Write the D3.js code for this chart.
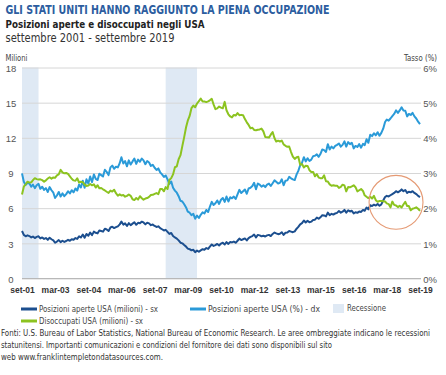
<!DOCTYPE html>
<html>
<head>
<meta charset="utf-8">
<script src="https://cdn.jsdelivr.net/npm/d3@7"></script>
<style>
  body { margin: 0; background: #fff; }
  svg { display: block; font-family: "Liberation Sans Narrow", "Arial Narrow", "DejaVu Sans Condensed", sans-serif; }
</style>
</head>
<body>
<div id="chart"></div>
<script>
// monthly values, settembre 2001 - settembre 2019
const startMonth = '2001-09';

// Posizioni aperte USA (milioni)
const openings = [
  4.05, 3.72, 3.60, 3.68,
  3.62, 3.50, 3.58, 3.45, 3.55, 3.60, 3.42, 3.50, 3.38, 3.45, 3.30, 3.48,
  3.35, 3.25, 3.05, 3.15, 3.28, 3.10, 3.22, 3.12, 3.20, 3.30, 3.22, 3.35,
  3.30, 3.45, 3.38, 3.60, 3.50, 3.75, 3.48, 3.80, 3.65, 3.92, 3.70, 4.00,
  3.90, 3.85, 4.10, 4.05, 4.00, 4.25, 4.18, 4.05, 4.35, 4.42, 4.30, 4.38,
  4.45, 4.62, 4.85, 4.60, 4.70, 4.48, 4.72, 4.55, 4.68, 4.80, 4.58, 4.75,
  4.72, 4.85, 4.78, 4.62, 4.75, 4.70, 4.55, 4.60, 4.48, 4.40, 4.45, 4.30,
  4.20, 4.10, 4.15, 3.98, 3.80, 3.88, 3.62, 3.50, 3.40, 3.25, 3.05, 3.00,
  2.85, 2.72, 2.55, 2.50, 2.40, 2.45, 2.25, 2.38, 2.28, 2.40, 2.50, 2.45,
  2.60, 2.52, 2.72, 2.90, 2.78, 2.85, 2.95, 2.82, 2.98, 3.05, 2.90, 3.10,
  2.95, 3.12, 3.08, 3.15, 3.05, 3.22, 3.40, 3.28, 3.35, 3.42, 3.25, 3.45,
  3.55, 3.62, 3.75, 3.50, 3.72, 3.68, 3.60, 3.65, 3.58, 3.68, 3.72, 3.62,
  3.80, 3.92, 3.85, 3.78, 3.82, 3.95, 3.72, 3.90, 3.92, 4.05, 4.00, 3.95,
  4.02, 4.25, 4.40, 4.62, 4.72, 4.95, 4.78, 4.92, 4.80, 4.85, 5.00, 5.02,
  5.20, 5.10, 5.22, 5.40, 5.38, 5.30, 5.62, 5.40, 5.52, 5.45, 5.55, 5.60,
  5.75, 5.62, 5.70, 5.85, 5.62, 5.82, 5.72, 5.78, 5.55, 5.65, 5.60, 5.72,
  5.68, 5.85, 5.78, 6.05, 5.90, 6.25, 6.18, 6.30, 6.22, 6.35, 6.20, 6.32,
  6.65, 6.95, 7.05, 7.00, 7.10, 7.20, 7.30, 7.45, 7.35, 7.45, 7.60, 7.45,
  7.55, 7.30, 7.40, 7.35, 7.45, 7.30, 7.20, 7.05, 6.95
];

// Posizioni aperte USA (%)
const openingsRate = [
  2.99, 2.75, 2.66, 2.72,
  2.70, 2.61, 2.67, 2.57, 2.65, 2.69, 2.55, 2.61, 2.52, 2.57, 2.46, 2.60,
  2.51, 2.44, 2.29, 2.36, 2.46, 2.33, 2.42, 2.34, 2.40, 2.48, 2.42, 2.51,
  2.45, 2.56, 2.50, 2.67, 2.59, 2.78, 2.58, 2.82, 2.70, 2.90, 2.74, 2.96,
  2.83, 2.80, 2.98, 2.94, 2.90, 3.09, 3.03, 2.94, 3.16, 3.21, 3.12, 3.18,
  3.16, 3.28, 3.45, 3.27, 3.34, 3.19, 3.36, 3.24, 3.33, 3.41, 3.26, 3.38,
  3.32, 3.41, 3.36, 3.25, 3.34, 3.30, 3.20, 3.23, 3.15, 3.09, 3.13, 3.02,
  2.96, 2.89, 2.93, 2.82, 2.69, 2.76, 2.58, 2.50, 2.44, 2.34, 2.21, 2.19,
  2.11, 2.02, 1.90, 1.87, 1.80, 1.84, 1.70, 1.79, 1.72, 1.81, 1.88, 1.85,
  1.95, 1.89, 2.04, 2.18, 2.09, 2.14, 2.22, 2.12, 2.24, 2.29, 2.18, 2.33,
  2.19, 2.31, 2.28, 2.33, 2.26, 2.39, 2.52, 2.43, 2.48, 2.53, 2.41, 2.56,
  2.58, 2.63, 2.72, 2.54, 2.70, 2.67, 2.61, 2.65, 2.60, 2.67, 2.70, 2.63,
  2.71, 2.79, 2.75, 2.70, 2.72, 2.82, 2.65, 2.78, 2.79, 2.89, 2.85, 2.82,
  2.80, 2.96, 3.06, 3.22, 3.29, 3.45, 3.33, 3.42, 3.34, 3.38, 3.48, 3.49,
  3.53, 3.46, 3.54, 3.67, 3.65, 3.60, 3.82, 3.67, 3.75, 3.70, 3.77, 3.80,
  3.84, 3.75, 3.80, 3.90, 3.75, 3.88, 3.82, 3.86, 3.70, 3.77, 3.74, 3.82,
  3.72, 3.83, 3.79, 3.96, 3.86, 4.09, 4.05, 4.13, 4.07, 4.16, 4.06, 4.14,
  4.26, 4.45, 4.52, 4.49, 4.55, 4.62, 4.68, 4.78, 4.71, 4.78, 4.87, 4.78,
  4.77, 4.61, 4.68, 4.65, 4.71, 4.61, 4.55, 4.46, 4.39
];

// Disoccupati USA (milioni)
const unemployed = [
  7.17, 7.83, 8.04, 8.26,
  8.18, 8.21, 8.39, 8.56, 8.48, 8.44, 8.46, 8.39, 8.26, 8.37, 8.53, 8.64,
  8.52, 8.62, 8.59, 8.80, 8.89, 9.27, 9.05, 8.97, 9.00, 8.92, 8.72, 8.51,
  8.37, 8.34, 8.55, 8.19, 8.25, 8.22, 8.00, 7.90, 7.93, 8.06, 7.95, 8.03,
  7.76, 7.96, 7.70, 7.72, 7.61, 7.51, 7.40, 7.30, 7.50, 7.42, 7.57, 7.28,
  7.06, 7.18, 7.08, 7.12, 6.98, 7.05, 7.17, 7.05, 6.76, 6.69, 6.87, 6.73,
  7.02, 6.85, 6.73, 6.82, 6.86, 6.96, 7.12, 7.14, 7.22, 7.29, 7.20, 7.63,
  7.64, 7.44, 7.80, 7.63, 8.40, 8.56, 8.88, 9.49, 9.57, 10.17, 10.52, 11.29,
  12.06, 12.90, 13.46, 13.87, 14.53, 14.75, 14.61, 14.93, 15.14, 15.35, 15.10, 15.10,
  15.05, 15.11, 15.20, 15.33, 14.85, 14.45, 14.51, 14.67, 14.58, 14.52, 15.07, 14.35,
  14.01, 13.82, 13.74, 13.95, 13.90, 14.11, 13.93, 13.96, 13.93, 13.60, 13.32, 13.10,
  12.81, 12.86, 12.67, 12.65, 12.69, 12.72, 12.79, 12.55, 12.07, 12.04, 12.02, 12.27,
  12.50, 11.97, 11.69, 11.76, 11.69, 11.76, 11.44, 11.32, 11.24, 11.26, 10.79, 10.40,
  10.20, 10.35, 10.38, 9.70, 9.76, 9.47, 9.61, 9.60, 9.24, 9.09, 9.09, 8.72,
  8.90, 8.61, 8.56, 8.55, 8.80, 8.30, 8.27, 8.03, 7.91, 7.95, 7.91, 7.92,
  7.73, 7.82, 8.00, 7.94, 7.43, 7.80, 7.78, 7.86, 7.95, 7.79, 7.43, 7.53,
  7.63, 7.47, 7.10, 6.97, 6.86, 6.97, 6.82, 7.05, 6.68, 6.54, 6.62, 6.61,
  6.59, 6.57, 6.41, 6.35, 6.07, 6.56, 6.28, 6.23, 6.09, 6.21, 6.06, 6.31,
  6.54, 6.18, 6.18, 5.82, 5.95, 6.00, 6.07, 5.95, 5.76
];

const recessions = [['2001-09', '2002-06'], ['2008-03', '2009-08']];

const tickMonths = ['2001-09', '2003-03', '2004-09', '2006-03', '2007-09', '2009-03', '2010-09',
  '2012-03', '2013-09', '2015-03', '2016-09', '2018-03', '2019-09'];
const tickLabels = ['set-01', 'mar-03', 'set-04', 'mar-06', 'set-07', 'mar-09', 'set-10',
  'mar-12', 'set-13', 'mar-15', 'set-16', 'mar-18', 'set-19'];
const leftTicks = [0, 3, 6, 9, 12, 15, 18];
const rightTicks = [0, 1, 2, 3, 4, 5, 6];

const colors = { openings: '#1c4f8f', rate: '#2a9ad8', unemployed: '#8cc320', recession: '#dfe9f4' };

const W = 446, H = 375;
const plot = { left: 22, right: 420, top: 67.5, bottom: 278.5 };

const parse = d3.timeParse('%Y-%m');
const months = d3.timeMonth.range(parse(startMonth), d3.timeMonth.offset(parse(startMonth), openings.length));

const svg = d3.select('#chart').append('svg').attr('width', W).attr('height', H);

// small helper for texts squeezed to the reference width
const fitText = (sel, len) => sel.attr('textLength', len).attr('lengthAdjust', 'spacingAndGlyphs');

// Header
svg.append('text').attr('x', 5.5).attr('y', 13.5)
  .attr('fill', '#2c5d9f').style('font-weight', 'bold').style('font-size', '11.5px')
  .text('GLI STATI UNITI HANNO RAGGIUNTO LA PIENA OCCUPAZIONE').call(fitText, 324);
svg.append('text').attr('x', 5.5).attr('y', 28.3)
  .attr('fill', '#222').style('font-weight', 'bold').style('font-size', '10.5px')
  .text('Posizioni aperte e disoccupati negli USA').call(fitText, 199);
svg.append('text').attr('x', 5.5).attr('y', 42)
  .attr('fill', '#333').style('font-size', '12.5px')
  .text('settembre 2001 - settembre 2019').call(fitText, 169);
svg.append('text').attr('x', 5.5).attr('y', 60.5)
  .attr('fill', '#444').style('font-size', '8px').text('Milioni').call(fitText, 22);
svg.append('text').attr('x', 404).attr('y', 60.5)
  .attr('fill', '#444').style('font-size', '8px').text('Tasso (%)').call(fitText, 33);

// Scales
const x = d3.scaleTime().domain([months[0], months[months.length - 1]]).range([plot.left, plot.right]);
const y = d3.scaleLinear().domain([0, 18]).range([plot.bottom, plot.top]);
const yR = d3.scaleLinear().domain([0, 6]).range([plot.bottom, plot.top]);

// Recession bands
svg.append('g').selectAll('rect').data(recessions).enter().append('rect')
  .attr('x', d => x(parse(d[0])))
  .attr('width', d => x(parse(d[1])) - x(parse(d[0])))
  .attr('y', y(18))
  .attr('height', y(0) - y(18))
  .attr('fill', colors.recession);

// Left axis with gridlines
const yAxisGroup = svg.append('g').attr('transform', `translate(${plot.left},0)`)
  .call(d3.axisLeft(y).tickValues(leftTicks).tickSize(-(plot.right + 1 - plot.left)));
yAxisGroup.select('.domain').remove();
yAxisGroup.selectAll('line').attr('stroke', '#d6d6d6');
yAxisGroup.selectAll('text').attr('x', -11).attr('dy', '0.4em').attr('text-anchor', 'middle')
  .attr('fill', '#555').style('font-size', '9.5px').style('font-family', null);

// Right axis
const yRGroup = svg.append('g').attr('transform', 'translate(437,0)')
  .call(d3.axisRight(yR).tickValues(rightTicks).tickSize(0).tickFormat(d => d + '%'));
yRGroup.select('.domain').remove();
yRGroup.selectAll('text').attr('x', 0).attr('dy', '0.4em').attr('text-anchor', 'end')
  .attr('fill', '#555').style('font-size', '9.5px').style('font-family', null);

// Bottom axis
const xAxisGroup = svg.append('g').attr('transform', `translate(0,${plot.bottom})`)
  .call(d3.axisBottom(x).tickValues(tickMonths.map(parse)).tickSize(0).tickPadding(8)
    .tickFormat((d, i) => tickLabels[i]));
xAxisGroup.select('.domain').attr('stroke', '#b8b8b8').attr('d', `M${plot.left},0H${plot.right + 1}`);
xAxisGroup.selectAll('text').attr('fill', '#333').style('font-weight', 'bold')
  .style('font-size', '8.5px').style('font-family', null);

// Lines
const series = [
  { values: openings, scale: y, color: colors.openings },
  { values: openingsRate, scale: yR, color: colors.rate },
  { values: unemployed, scale: y, color: colors.unemployed },
];
series.forEach(s => {
  const line = d3.line().x((d, i) => x(months[i])).y(d => s.scale(d));
  svg.append('path').datum(s.values)
    .attr('fill', 'none').attr('stroke', s.color).attr('stroke-width', 2)
    .attr('stroke-linejoin', 'round').attr('d', line);
});

// Highlight circle
svg.append('circle')
  .attr('cx', x(parse('2018-08')))
  .attr('cy', y(6.5))
  .attr('r', y(0) - y(2.3))
  .attr('fill', 'none').attr('stroke', '#e59a74').attr('stroke-width', 1.1);

// Legend
const legend = svg.append('g').style('font-size', '9.5px').attr('fill', '#444');
const legendItems = [
  { label: 'Posizioni aperte USA (milioni) - sx', color: colors.openings, lx: 21, ly: 309, len: 119 },
  { label: 'Posizioni aperte USA (%) - dx', color: colors.rate, lx: 190, ly: 309, len: 112 },
  { label: 'Disoccupati USA (milioni) - sx', color: colors.unemployed, lx: 21, ly: 321, len: 104 },
];
legendItems.forEach(d => {
  legend.append('line').attr('x1', d.lx).attr('x2', d.lx + 16).attr('y1', d.ly).attr('y2', d.ly)
    .attr('stroke', d.color).attr('stroke-width', 3);
  legend.append('text').attr('x', d.lx + 18).attr('y', d.ly + 3.3).text(d.label).call(fitText, d.len);
});
legend.append('rect').attr('x', 333).attr('y', 304).attr('width', 11).attr('height', 9)
  .attr('fill', colors.recession);
legend.append('text').attr('x', 347).attr('y', 311).text('Recessione').call(fitText, 39);

// Footnote
const notes = [
  'Fonti: U.S. Bureau of Labor Statistics, National Bureau of Economic Research. Le aree ombreggiate indicano le recessioni',
  'statunitensi. Importanti comunicazioni e condizioni del fornitore dei dati sono disponibili sul sito',
  'web www.franklintempletondatasources.com.'
];
const noteLengths = [429, 331, 162];
svg.append('g').selectAll('text').data(notes).enter().append('text')
  .attr('x', 1).attr('y', (d, i) => 336 + i * 12)
  .attr('fill', '#333').style('font-size', '8.2px')
  .attr('textLength', (d, i) => noteLengths[i]).attr('lengthAdjust', 'spacingAndGlyphs')
  .text(d => d);
</script>
</body>
</html>
